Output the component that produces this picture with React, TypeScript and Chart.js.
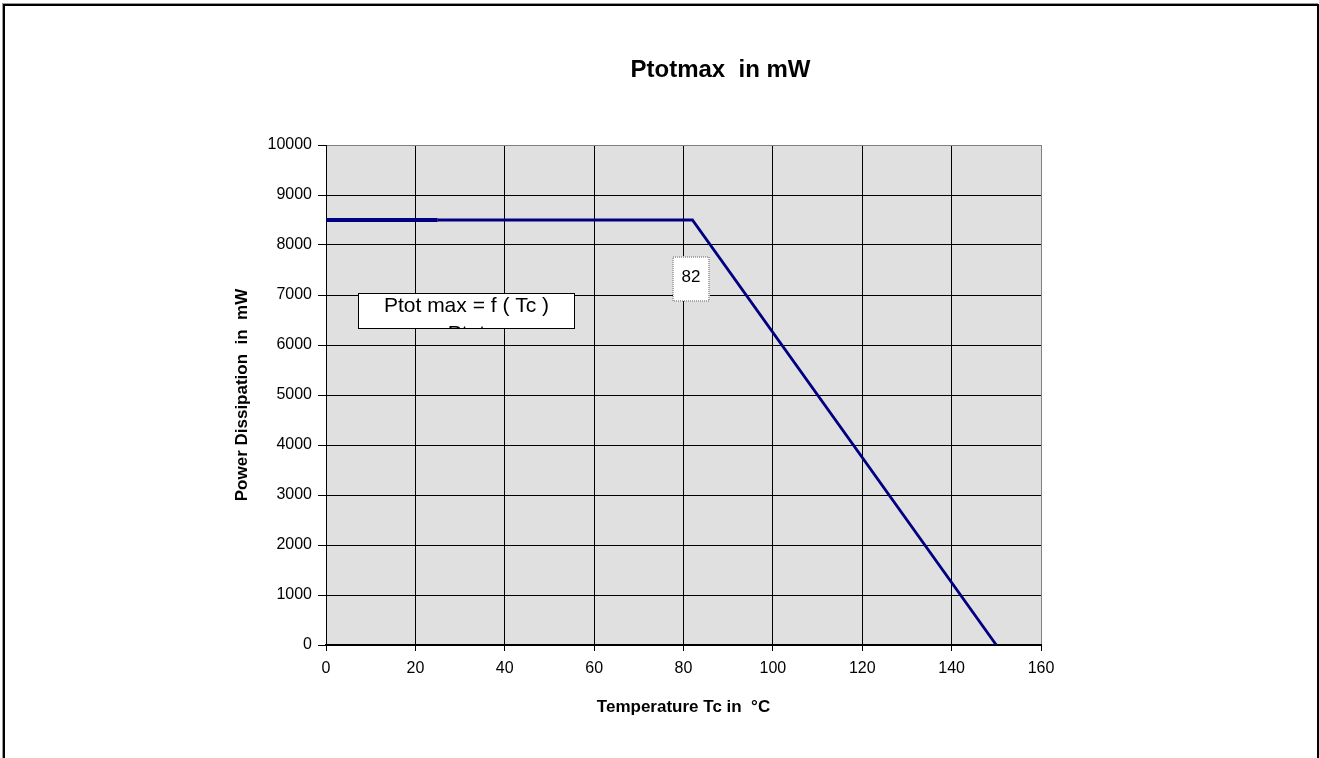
import React, { useEffect, useRef } from "react";
import { Chart, registerables } from "chart.js";

Chart.register(...registerables);

const FONT = '"Liberation Sans", Arial, Helvetica, sans-serif';

const chartTitle = "Ptotmax  in mW";
const xAxisTitle = "Temperature Tc in  °C";
const yAxisTitle = "Power Dissipation  in  mW";

// Derating curve points
const temperatureC = [0, 25, 82, 150];
const powerMW = [8500, 8500, 8500, 0];

// Axis ranges / steps
const xMin = 0;
const xMax = 160;
const xStep = 20;
const yMin = 0;
const yMax = 10000;
const yStep = 1000;

// Data label at the knee point
const kneeIndex = 2;
const kneeLabel = "82";

// Text box inside the plot (data coordinates)
const noteLines = ["Ptot max = f ( Tc )", "Ptot"];
const noteXRange = [7.2, 55.7];
const noteYRange = [7040, 6320];

const W = 1319;
const H = 758;

const decorPlugin = {
  id: "decor",
  beforeDraw(chart: any) {
    const { ctx, chartArea: a } = chart;
    ctx.save();
    ctx.fillStyle = "#ffffff";
    ctx.fillRect(0, 0, W, H);
    // outer frame
    ctx.fillStyle = "#9a9a9a";
    ctx.fillRect(2, 3, W - 3, 1);
    ctx.fillRect(2, 3, 1, H);
    ctx.fillStyle = "#000000";
    ctx.fillRect(3, 4, W - 3, 2);
    ctx.fillRect(3, 4, 2, H);
    ctx.fillRect(W - 2, 4, 2, H);
    // plot background
    ctx.fillStyle = "#e0e0e0";
    ctx.fillRect(a.left, a.top, a.right - a.left, a.bottom - a.top);
    // title
    ctx.fillStyle = "#000000";
    ctx.font = `bold 24px ${FONT}`;
    ctx.textAlign = "center";
    ctx.textBaseline = "middle";
    ctx.fillText(chartTitle, (a.left + a.right) / 2 + 37, 70);
    ctx.restore();
  },
  afterDraw(chart: any) {
    const { ctx } = chart;
    const xs = chart.scales.x;
    const ys = chart.scales.y;
    ctx.save();

    // knee data label
    const px = xs.getPixelForValue(temperatureC[kneeIndex]);
    const py = ys.getPixelForValue(powerMW[kneeIndex]);
    const bw = 36;
    const bh = 44;
    const bl = Math.round(px - 19);
    const bt = Math.round(py + 37);
    ctx.fillStyle = "#ffffff";
    ctx.fillRect(bl, bt, bw, bh);
    ctx.strokeStyle = "#a8a8a8";
    ctx.lineWidth = 2;
    ctx.setLineDash([1, 1]);
    ctx.strokeRect(bl, bt, bw, bh);
    ctx.setLineDash([]);
    ctx.fillStyle = "#000000";
    ctx.font = `17px ${FONT}`;
    ctx.textAlign = "center";
    ctx.textBaseline = "middle";
    ctx.fillText(kneeLabel, bl + bw / 2, bt + 20);

    // note box
    const nl = Math.round(xs.getPixelForValue(noteXRange[0]));
    const nr = Math.round(xs.getPixelForValue(noteXRange[1]));
    const nt = Math.round(ys.getPixelForValue(noteYRange[0]));
    const nb = Math.round(ys.getPixelForValue(noteYRange[1]));
    ctx.fillStyle = "#ffffff";
    ctx.fillRect(nl, nt, nr - nl, nb - nt);
    ctx.save();
    ctx.beginPath();
    ctx.rect(nl, nt, nr - nl, nb - nt);
    ctx.clip();
    ctx.fillStyle = "#000000";
    ctx.font = `21px ${FONT}`;
    ctx.textAlign = "center";
    ctx.textBaseline = "middle";
    noteLines.forEach((t, i) => {
      ctx.fillText(t, (nl + nr) / 2, nt + 13 + i * 28);
    });
    ctx.restore();
    ctx.strokeStyle = "#000000";
    ctx.lineWidth = 1;
    ctx.strokeRect(nl + 0.5, nt + 0.5, nr - nl - 1, nb - nt - 1);

    ctx.restore();
  },
};

export default function App() {
  const canvasRef = useRef<HTMLCanvasElement | null>(null);

  useEffect(() => {
    const canvas = canvasRef.current;
    if (!canvas) return;
    const points = temperatureC.map((t, i) => ({ x: t, y: powerMW[i] }));
    const chart = new Chart(canvas, {
      type: "line",
      data: {
        datasets: [
          {
            data: points,
            borderColor: "#000080",
            borderWidth: 2.8,
            pointRadius: 0,
            tension: 0,
            fill: false,
            segment: {
              borderWidth: (c: any) => (c.p0DataIndex === 0 ? 4 : 2.8),
            },
          } as any,
        ],
      },
      options: {
        responsive: false,
        animation: false,
        devicePixelRatio: 1,
        layout: { padding: { left: 0, right: 278, top: 145, bottom: 0 } },
        plugins: {
          legend: { display: false },
          title: { display: false },
          tooltip: { enabled: false },
        },
        scales: {
          x: {
            type: "linear",
            min: xMin,
            max: xMax,
            ticks: {
              stepSize: xStep,
              color: "#000000",
              font: { family: FONT, size: 16 },
              padding: 8,
              maxRotation: 0,
              callback: (v: any) => String(v),
            },
            grid: {
              color: (c: any) => (c.tick && c.tick.value === xMax ? "#808080" : "#000000"),
              tickColor: "#000000",
              tickLength: 6,
              lineWidth: 1,
            },
            border: { color: "#000000", width: 2 },
            title: {
              display: true,
              text: xAxisTitle,
              color: "#000000",
              font: { family: FONT, size: 17, weight: "bold" },
              padding: { top: 0, bottom: 40 },
            },
            afterFit: (s: any) => {
              s.height = 113;
            },
          },
          y: {
            type: "linear",
            min: yMin,
            max: yMax,
            ticks: {
              stepSize: yStep,
              color: "#000000",
              font: { family: FONT, size: 16 },
              padding: 6,
              callback: (v: any) => String(v),
            },
            grid: {
              color: (c: any) => (c.tick && c.tick.value === yMax ? "#808080" : "#000000"),
              tickColor: "#000000",
              tickLength: 8,
              lineWidth: 1,
            },
            border: { color: "#000000", width: 1 },
            title: {
              display: true,
              text: yAxisTitle,
              color: "#000000",
              font: { family: FONT, size: 17, weight: "bold" },
              padding: { top: 232, bottom: 0 },
            },
            afterFit: (s: any) => {
              s.width = 326;
            },
          },
        },
      } as any,
      plugins: [decorPlugin],
    });
    return () => chart.destroy();
  }, []);

  return (
    <div style={{ position: "fixed", left: 0, top: 0, width: W, height: H, background: "#fff" }}>
      <canvas ref={canvasRef} width={W} height={H} style={{ display: "block", width: W, height: H }} />
    </div>
  );
}
